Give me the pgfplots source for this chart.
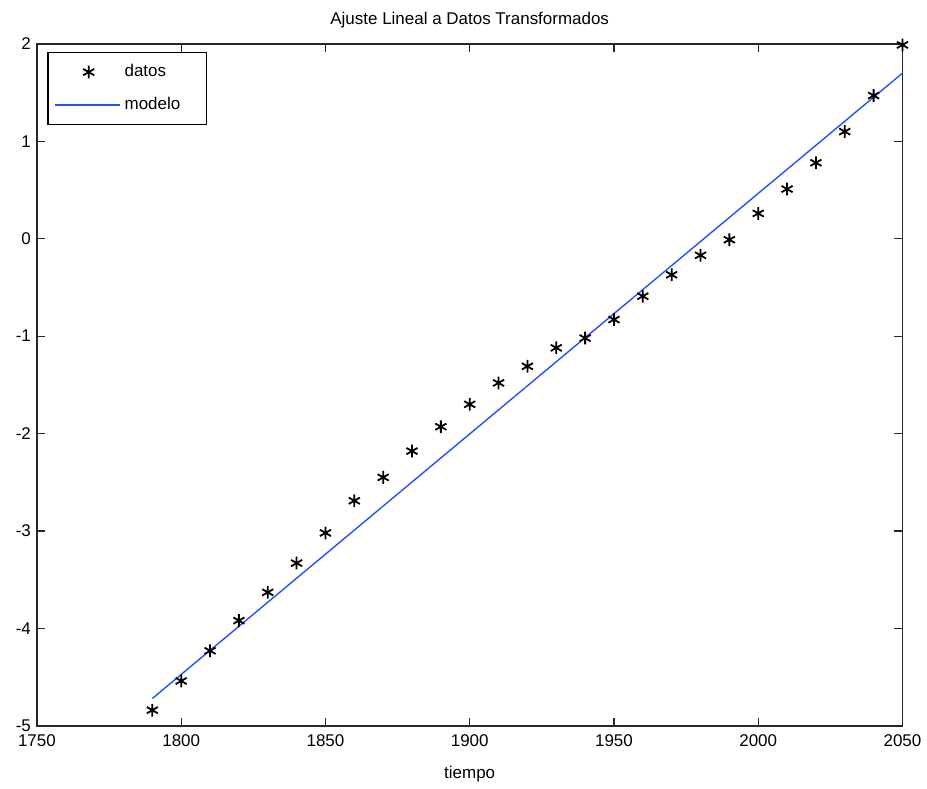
\documentclass[border=0pt]{standalone}
\usepackage{pgfplots}
\pgfplotsset{compat=1.18}
\usepackage{fontspec}
\setmainfont{Liberation Sans}
\definecolor{mblue}{RGB}{40,80,255}
\pgfplotsset{
  linelegend/.style={legend image code/.code={\draw[##1] (0cm,0cm) -- (1.15cm,0cm);}},
  marklegend/.style={legend image code/.code={\draw[##1] plot coordinates {(0.6cm,0cm)};}},
}
\begin{document}
\fontsize{8.5}{10}\selectfont
\begin{tikzpicture}
\begin{axis}[
  scale only axis,
  width=433.5pt, height=341.5pt,
  xmin=1750, xmax=2050, ymin=-5, ymax=2,
  xtick={1750,1800,...,2050},
  ytick={-5,-4,...,2},
  tick align=inside,
  xtick pos=both, ytick pos=both,
  xticklabel pos=lower, yticklabel pos=left,
  major tick length=4pt,
  axis line style={line width=0.8pt, black!85},
  every tick/.style={black!85, line width=0.6pt},
  /pgf/number format/set thousands separator={},
  /pgf/number format/assume math mode=true,
  ticklabel style={font=\fontsize{8.5}{10}\selectfont},
  xticklabel style={yshift=-1.5pt},
  title={Ajuste Lineal a Datos Transformados},
  title style={font=\fontsize{8.5}{10}\selectfont, yshift=-1pt},
  xlabel={tiempo},
  xlabel style={font=\fontsize{8.5}{10}\selectfont, yshift=-4pt},
  legend style={at={(rel axis cs:0.012,0.988)}, anchor=north west, draw=black, line width=0.6pt, font=\fontsize{8.5}{10}\selectfont, inner xsep=3pt, inner ysep=4pt, row sep=5pt, nodes={inner xsep=2pt}},
  legend cell align=left,
  clip=false,
]
\addplot[only marks, mark=asterisk, mark size=3.2pt, black, line width=0.9pt, marklegend] coordinates {
(1790,-4.84) (1800,-4.54) (1810,-4.23) (1820,-3.92) (1830,-3.63) (1840,-3.33)
(1850,-3.02) (1860,-2.69) (1870,-2.45) (1880,-2.18) (1890,-1.93) (1900,-1.70)
(1910,-1.48) (1920,-1.31) (1930,-1.12) (1940,-1.02) (1950,-0.83) (1960,-0.59)
(1970,-0.37) (1980,-0.17) (1990,-0.01) (2000,0.26) (2010,0.51) (2020,0.78)
(2030,1.10) (2040,1.47) (2050,1.99)};
\addlegendentry{datos}
\addplot[mblue, line width=0.7pt, linelegend] coordinates {(1790,-4.72) (2050,1.70)};
\addlegendentry{modelo\hspace*{8pt}\mbox{}}
\end{axis}
\path (current axis.south west) ++(-18.5pt,-30pt) coordinate (bl);
\path (current axis.north east) ++(11.5pt,22pt) coordinate (tr);
\useasboundingbox (bl) rectangle (tr);
\end{tikzpicture}
\end{document}
